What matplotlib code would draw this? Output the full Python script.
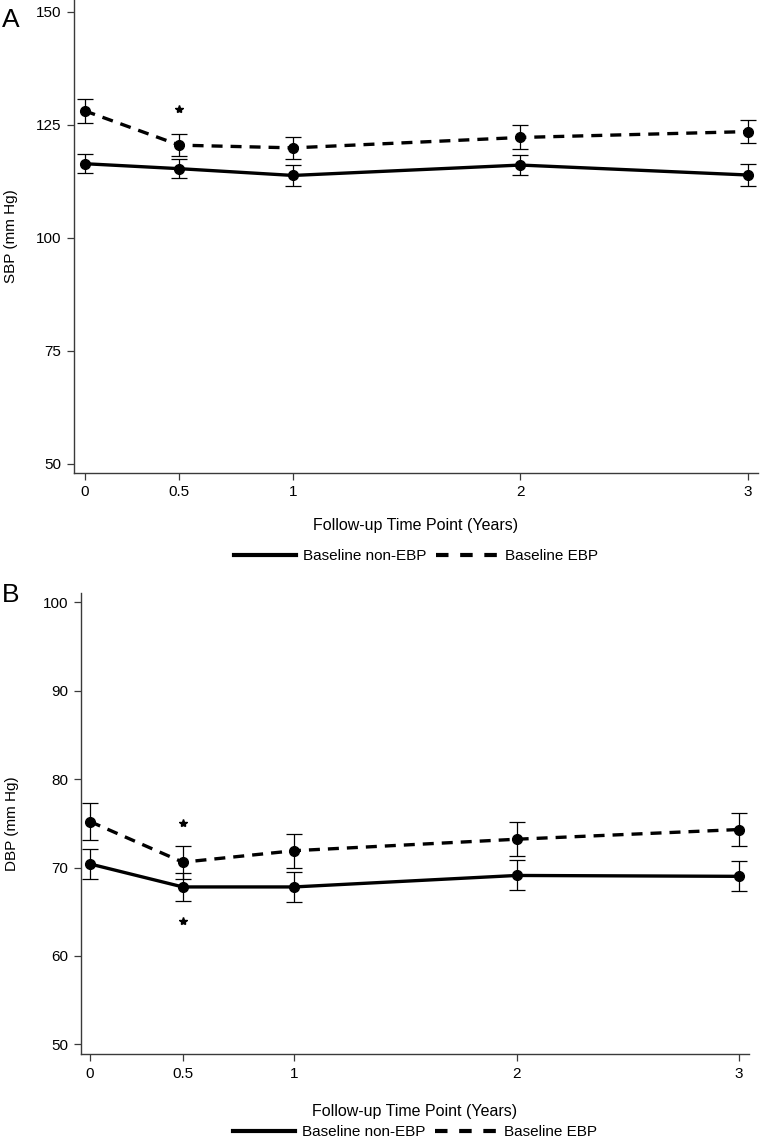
import matplotlib
matplotlib.use("Agg")
import matplotlib.pyplot as plt
from matplotlib.lines import Line2D

plt.rcParams['font.family'] = ['Liberation Sans', 'DejaVu Sans']

# ---- data ----
x_pos = [0.083, 0.5, 1, 2, 3]
x_labels = ["0", "0.5", "1", "2", "3"]

sbp_non = [116.4, 115.3, 113.8, 116.1, 113.9]
sbp_non_err = [2.1, 2.1, 2.3, 2.3, 2.4]
sbp_ebp = [128.1, 120.5, 119.9, 122.2, 123.5]
sbp_ebp_err = [2.7, 2.5, 2.4, 2.65, 2.5]
sbp_star_x = [0.5]
sbp_star_y = [128.5]
sbp_ticks = [50, 75, 100, 125, 150]

dbp_non = [70.4, 67.8, 67.8, 69.1, 69.0]
dbp_non_err = [1.7, 1.6, 1.65, 1.7, 1.7]
dbp_ebp = [75.2, 70.6, 71.9, 73.2, 74.3]
dbp_ebp_err = [2.1, 1.85, 1.9, 1.9, 1.9]
dbp_star_x = [0.5, 0.5]
dbp_star_y = [75.0, 64.0]
dbp_ticks = [50, 60, 70, 80, 90, 100]

series_labels = ["Baseline non-EBP", "Baseline EBP"]

W, H = 761, 1141
fig = plt.figure(figsize=(W / 100, H / 100), dpi=100)

def px_axes(l, r, t, b):
    return fig.add_axes([l / W, 1 - b / H, (r - l) / W, (b - t) / H])

axA = px_axes(73.7, 758, 0, 473)
axB = px_axes(80.7, 749, 592.7, 1054.3)

DASH = (3.3, 2.4)
spine_col = '#3a3a3a'

def draw(ax, non, non_err, ebp, ebp_err, sx, sy, yticks, ylim, xlim, ylabel, ylab_x, xlab_y):
    ax.errorbar(x_pos, non, yerr=non_err, color='black', lw=2.4, marker='o', ms=7,
                elinewidth=0.9, capsize=5.5, capthick=0.9, zorder=3)
    l2 = ax.errorbar(x_pos, ebp, yerr=ebp_err, color='black', lw=2.4, marker='o', ms=7,
                     elinewidth=0.9, capsize=5.5, capthick=0.9, zorder=3)
    l2[0].set_dashes(DASH)
    ax.plot(sx, sy, linestyle='none', marker='*', color='black', ms=6)
    ax.set_xlim(*xlim)
    ax.set_ylim(*ylim)
    ax.set_xticks(x_pos)
    ax.set_xticklabels(x_labels)
    ax.set_yticks(yticks)
    for s in ['top', 'right']:
        ax.spines[s].set_visible(False)
    for s in ['left', 'bottom']:
        ax.spines[s].set_color(spine_col)
        ax.spines[s].set_linewidth(1.0)
    ax.tick_params(axis='both', direction='out', length=5, width=0.9, color=spine_col,
                   labelsize=11, pad=4)
    ax.set_ylabel(ylabel, fontsize=11)
    ax.yaxis.set_label_coords(ylab_x, 0.5)
    ax.set_xlabel("Follow-up Time Point (Years)", fontsize=11.5)
    ax.xaxis.set_label_coords(0.5, xlab_y)

draw(axA, sbp_non, sbp_non_err, sbp_ebp, sbp_ebp_err, sbp_star_x, sbp_star_y,
     sbp_ticks, (48.0, 152.6), (0.035, 3.045), "SBP (mm Hg)", -0.082, -0.095)
draw(axB, dbp_non, dbp_non_err, dbp_ebp, dbp_ebp_err, dbp_star_x, dbp_star_y,
     dbp_ticks, (48.86, 101.1), (0.041, 3.045), "DBP (mm Hg)", -0.092, -0.108)

handles = [Line2D([], [], color='black', lw=3),
           Line2D([], [], color='black', lw=3, dashes=(3.0, 2.8))]
for cx, cy in [(416, 556), (415, 1132)]:
    fig.legend(handles, series_labels, loc='center', bbox_to_anchor=(cx / W, 1 - cy / H),
               ncol=2, frameon=False, fontsize=11, handlelength=4.0, handletextpad=0.5,
               columnspacing=0.6, borderpad=0.1)

fig.text(2 / W, 1 - 20 / H, "A", fontsize=19, va='center', ha='left')
fig.text(2 / W, 1 - 595 / H, "B", fontsize=19, va='center', ha='left')

fig.savefig("out.png", dpi=100)
